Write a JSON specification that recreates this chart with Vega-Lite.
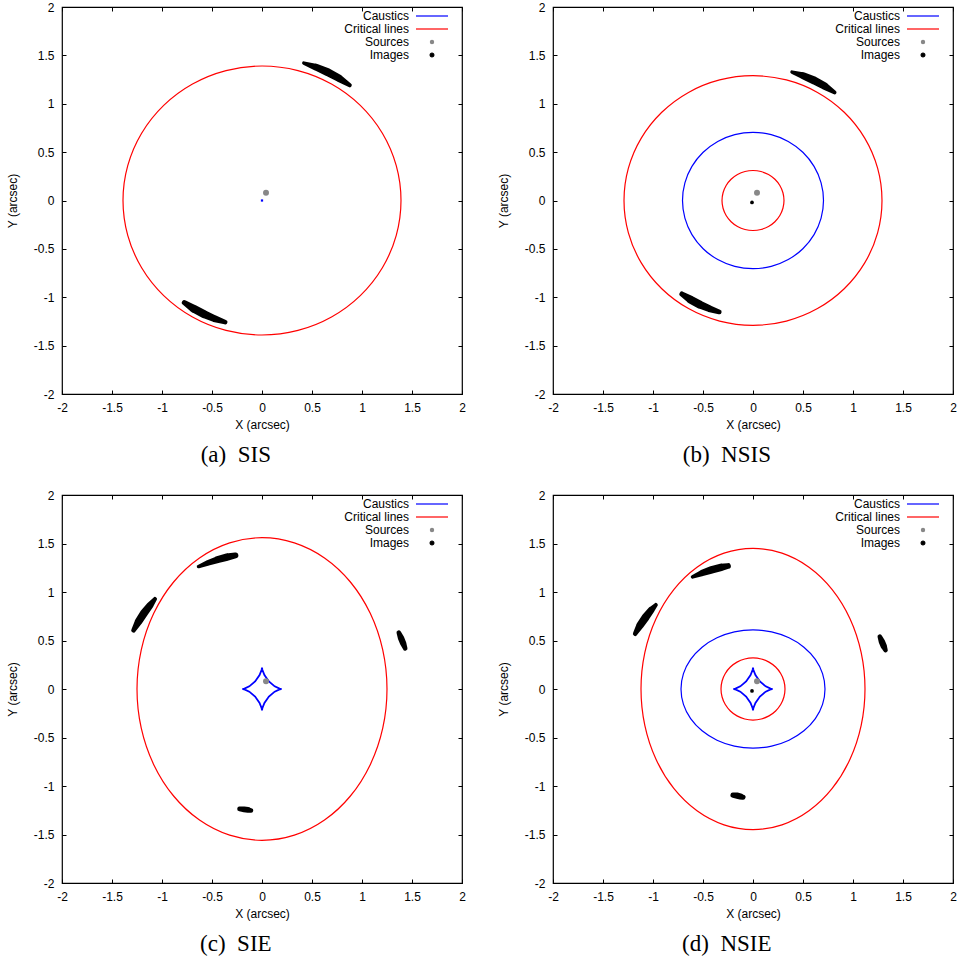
{
"$schema": "https://vega.github.io/schema/vega-lite/v6.json",
"background": "white",
"padding": {"left": 5, "top": 0, "right": 0, "bottom": 0},
"columns": 2,
"spacing": {"row": 20, "column": 30},
"config": {
  "view": {"stroke": "black", "strokeWidth": 1.2},
  "axis": {"domain": false, "grid": false, "tickColor": "black", "tickWidth": 1, "tickSize": -4, "labelPadding": 12, "labelFlush": false, "labelOverlap": false, "labelColor": "black", "labelFont": "Liberation Sans", "labelFontSize": 12, "titleFont": "Liberation Sans", "titleFontSize": 12, "titleFontWeight": "normal", "titleColor": "black"},
  "axisX": {"titlePadding": 6},
  "axisY": {"titlePadding": 14},
  "legend": {"orient": "none", "legendX": 364, "legendY": 3, "labelFont": "Liberation Sans", "labelFontSize": 12, "labelColor": "black", "labelAlign": "right", "labelOffset": -29, "labelLimit": 300, "symbolStrokeWidth": 1.2, "rowPadding": 1, "padding": 0},
  "title": {"font": "Liberation Serif", "fontSize": 23, "fontWeight": "normal", "color": "black", "orient": "bottom", "anchor": "middle", "frame": "bounds", "offset": 14}
},
"datasets": {
  "a_lines": [
    {"c":"o","k":"Critical lines","i":0,"x":1.39,"y":0},{"c":"o","k":"Critical lines","i":1,"x":1.3426,"y":0.3598},{"c":"o","k":"Critical lines","i":2,"x":1.2038,"y":0.695},{"c":"o","k":"Critical lines","i":3,"x":0.9829,"y":0.9829},{"c":"o","k":"Critical lines","i":4,"x":0.695,"y":1.2038},{"c":"o","k":"Critical lines","i":5,"x":0.3598,"y":1.3426},{"c":"o","k":"Critical lines","i":6,"x":0,"y":1.39},{"c":"o","k":"Critical lines","i":7,"x":-0.3598,"y":1.3426},{"c":"o","k":"Critical lines","i":8,"x":-0.695,"y":1.2038},{"c":"o","k":"Critical lines","i":9,"x":-0.9829,"y":0.9829},{"c":"o","k":"Critical lines","i":10,"x":-1.2038,"y":0.695},{"c":"o","k":"Critical lines","i":11,"x":-1.3426,"y":0.3598},{"c":"o","k":"Critical lines","i":12,"x":-1.39,"y":0},{"c":"o","k":"Critical lines","i":13,"x":-1.3426,"y":-0.3598},{"c":"o","k":"Critical lines","i":14,"x":-1.2038,"y":-0.695},{"c":"o","k":"Critical lines","i":15,"x":-0.9829,"y":-0.9829},{"c":"o","k":"Critical lines","i":16,"x":-0.695,"y":-1.2038},{"c":"o","k":"Critical lines","i":17,"x":-0.3598,"y":-1.3426},{"c":"o","k":"Critical lines","i":18,"x":0,"y":-1.39},{"c":"o","k":"Critical lines","i":19,"x":0.3598,"y":-1.3426},{"c":"o","k":"Critical lines","i":20,"x":0.695,"y":-1.2038},{"c":"o","k":"Critical lines","i":21,"x":0.9829,"y":-0.9829},{"c":"o","k":"Critical lines","i":22,"x":1.2038,"y":-0.695},{"c":"o","k":"Critical lines","i":23,"x":1.3426,"y":-0.3598}
  ],
  "b_lines": [
    {"c":"o","k":"Critical lines","i":0,"x":1.29,"y":0},{"c":"o","k":"Critical lines","i":1,"x":1.2461,"y":0.3339},{"c":"o","k":"Critical lines","i":2,"x":1.1172,"y":0.645},{"c":"o","k":"Critical lines","i":3,"x":0.9122,"y":0.9122},{"c":"o","k":"Critical lines","i":4,"x":0.645,"y":1.1172},{"c":"o","k":"Critical lines","i":5,"x":0.3339,"y":1.2461},{"c":"o","k":"Critical lines","i":6,"x":0,"y":1.29},{"c":"o","k":"Critical lines","i":7,"x":-0.3339,"y":1.2461},{"c":"o","k":"Critical lines","i":8,"x":-0.645,"y":1.1172},{"c":"o","k":"Critical lines","i":9,"x":-0.9122,"y":0.9122},{"c":"o","k":"Critical lines","i":10,"x":-1.1172,"y":0.645},{"c":"o","k":"Critical lines","i":11,"x":-1.2461,"y":0.3339},{"c":"o","k":"Critical lines","i":12,"x":-1.29,"y":0},{"c":"o","k":"Critical lines","i":13,"x":-1.2461,"y":-0.3339},{"c":"o","k":"Critical lines","i":14,"x":-1.1172,"y":-0.645},{"c":"o","k":"Critical lines","i":15,"x":-0.9122,"y":-0.9122},{"c":"o","k":"Critical lines","i":16,"x":-0.645,"y":-1.1172},{"c":"o","k":"Critical lines","i":17,"x":-0.3339,"y":-1.2461},{"c":"o","k":"Critical lines","i":18,"x":0,"y":-1.29},{"c":"o","k":"Critical lines","i":19,"x":0.3339,"y":-1.2461},{"c":"o","k":"Critical lines","i":20,"x":0.645,"y":-1.1172},{"c":"o","k":"Critical lines","i":21,"x":0.9122,"y":-0.9122},{"c":"o","k":"Critical lines","i":22,"x":1.1172,"y":-0.645},{"c":"o","k":"Critical lines","i":23,"x":1.2461,"y":-0.3339},
    {"c":"m","k":"Caustics","i":0,"x":0.705,"y":0},{"c":"m","k":"Caustics","i":1,"x":0.681,"y":0.1825},{"c":"m","k":"Caustics","i":2,"x":0.6106,"y":0.3525},{"c":"m","k":"Caustics","i":3,"x":0.4985,"y":0.4985},{"c":"m","k":"Caustics","i":4,"x":0.3525,"y":0.6106},{"c":"m","k":"Caustics","i":5,"x":0.1825,"y":0.681},{"c":"m","k":"Caustics","i":6,"x":0,"y":0.705},{"c":"m","k":"Caustics","i":7,"x":-0.1825,"y":0.681},{"c":"m","k":"Caustics","i":8,"x":-0.3525,"y":0.6106},{"c":"m","k":"Caustics","i":9,"x":-0.4985,"y":0.4985},{"c":"m","k":"Caustics","i":10,"x":-0.6106,"y":0.3525},{"c":"m","k":"Caustics","i":11,"x":-0.681,"y":0.1825},{"c":"m","k":"Caustics","i":12,"x":-0.705,"y":0},{"c":"m","k":"Caustics","i":13,"x":-0.681,"y":-0.1825},{"c":"m","k":"Caustics","i":14,"x":-0.6106,"y":-0.3525},{"c":"m","k":"Caustics","i":15,"x":-0.4985,"y":-0.4985},{"c":"m","k":"Caustics","i":16,"x":-0.3525,"y":-0.6106},{"c":"m","k":"Caustics","i":17,"x":-0.1825,"y":-0.681},{"c":"m","k":"Caustics","i":18,"x":0,"y":-0.705},{"c":"m","k":"Caustics","i":19,"x":0.1825,"y":-0.681},{"c":"m","k":"Caustics","i":20,"x":0.3525,"y":-0.6106},{"c":"m","k":"Caustics","i":21,"x":0.4985,"y":-0.4985},{"c":"m","k":"Caustics","i":22,"x":0.6106,"y":-0.3525},{"c":"m","k":"Caustics","i":23,"x":0.681,"y":-0.1825},
    {"c":"n","k":"Critical lines","i":0,"x":0.31,"y":0},{"c":"n","k":"Critical lines","i":1,"x":0.2994,"y":0.0802},{"c":"n","k":"Critical lines","i":2,"x":0.2685,"y":0.155},{"c":"n","k":"Critical lines","i":3,"x":0.2192,"y":0.2192},{"c":"n","k":"Critical lines","i":4,"x":0.155,"y":0.2685},{"c":"n","k":"Critical lines","i":5,"x":0.0802,"y":0.2994},{"c":"n","k":"Critical lines","i":6,"x":0,"y":0.31},{"c":"n","k":"Critical lines","i":7,"x":-0.0802,"y":0.2994},{"c":"n","k":"Critical lines","i":8,"x":-0.155,"y":0.2685},{"c":"n","k":"Critical lines","i":9,"x":-0.2192,"y":0.2192},{"c":"n","k":"Critical lines","i":10,"x":-0.2685,"y":0.155},{"c":"n","k":"Critical lines","i":11,"x":-0.2994,"y":0.0802},{"c":"n","k":"Critical lines","i":12,"x":-0.31,"y":0},{"c":"n","k":"Critical lines","i":13,"x":-0.2994,"y":-0.0802},{"c":"n","k":"Critical lines","i":14,"x":-0.2685,"y":-0.155},{"c":"n","k":"Critical lines","i":15,"x":-0.2192,"y":-0.2192},{"c":"n","k":"Critical lines","i":16,"x":-0.155,"y":-0.2685},{"c":"n","k":"Critical lines","i":17,"x":-0.0802,"y":-0.2994},{"c":"n","k":"Critical lines","i":18,"x":0,"y":-0.31},{"c":"n","k":"Critical lines","i":19,"x":0.0802,"y":-0.2994},{"c":"n","k":"Critical lines","i":20,"x":0.155,"y":-0.2685},{"c":"n","k":"Critical lines","i":21,"x":0.2192,"y":-0.2192},{"c":"n","k":"Critical lines","i":22,"x":0.2685,"y":-0.155},{"c":"n","k":"Critical lines","i":23,"x":0.2994,"y":-0.0802}
  ],
  "c_lines": [
    {"c":"o","k":"Critical lines","i":0,"x":1.25,"y":0},{"c":"o","k":"Critical lines","i":1,"x":1.2074,"y":0.4038},{"c":"o","k":"Critical lines","i":2,"x":1.0825,"y":0.78},{"c":"o","k":"Critical lines","i":3,"x":0.8839,"y":1.1031},{"c":"o","k":"Critical lines","i":4,"x":0.625,"y":1.351},{"c":"o","k":"Critical lines","i":5,"x":0.3235,"y":1.5069},{"c":"o","k":"Critical lines","i":6,"x":0,"y":1.56},{"c":"o","k":"Critical lines","i":7,"x":-0.3235,"y":1.5069},{"c":"o","k":"Critical lines","i":8,"x":-0.625,"y":1.351},{"c":"o","k":"Critical lines","i":9,"x":-0.8839,"y":1.1031},{"c":"o","k":"Critical lines","i":10,"x":-1.0825,"y":0.78},{"c":"o","k":"Critical lines","i":11,"x":-1.2074,"y":0.4038},{"c":"o","k":"Critical lines","i":12,"x":-1.25,"y":0},{"c":"o","k":"Critical lines","i":13,"x":-1.2074,"y":-0.4038},{"c":"o","k":"Critical lines","i":14,"x":-1.0825,"y":-0.78},{"c":"o","k":"Critical lines","i":15,"x":-0.8839,"y":-1.1031},{"c":"o","k":"Critical lines","i":16,"x":-0.625,"y":-1.351},{"c":"o","k":"Critical lines","i":17,"x":-0.3235,"y":-1.5069},{"c":"o","k":"Critical lines","i":18,"x":0,"y":-1.56},{"c":"o","k":"Critical lines","i":19,"x":0.3235,"y":-1.5069},{"c":"o","k":"Critical lines","i":20,"x":0.625,"y":-1.351},{"c":"o","k":"Critical lines","i":21,"x":0.8839,"y":-1.1031},{"c":"o","k":"Critical lines","i":22,"x":1.0825,"y":-0.78},{"c":"o","k":"Critical lines","i":23,"x":1.2074,"y":-0.4038}
  ],
  "d_lines": [
    {"c":"o","k":"Critical lines","i":0,"x":1.12,"y":0},{"c":"o","k":"Critical lines","i":1,"x":1.0818,"y":0.3753},{"c":"o","k":"Critical lines","i":2,"x":0.97,"y":0.725},{"c":"o","k":"Critical lines","i":3,"x":0.792,"y":1.0253},{"c":"o","k":"Critical lines","i":4,"x":0.56,"y":1.2557},{"c":"o","k":"Critical lines","i":5,"x":0.2899,"y":1.4006},{"c":"o","k":"Critical lines","i":6,"x":0,"y":1.45},{"c":"o","k":"Critical lines","i":7,"x":-0.2899,"y":1.4006},{"c":"o","k":"Critical lines","i":8,"x":-0.56,"y":1.2557},{"c":"o","k":"Critical lines","i":9,"x":-0.792,"y":1.0253},{"c":"o","k":"Critical lines","i":10,"x":-0.97,"y":0.725},{"c":"o","k":"Critical lines","i":11,"x":-1.0818,"y":0.3753},{"c":"o","k":"Critical lines","i":12,"x":-1.12,"y":0},{"c":"o","k":"Critical lines","i":13,"x":-1.0818,"y":-0.3753},{"c":"o","k":"Critical lines","i":14,"x":-0.97,"y":-0.725},{"c":"o","k":"Critical lines","i":15,"x":-0.792,"y":-1.0253},{"c":"o","k":"Critical lines","i":16,"x":-0.56,"y":-1.2557},{"c":"o","k":"Critical lines","i":17,"x":-0.2899,"y":-1.4006},{"c":"o","k":"Critical lines","i":18,"x":0,"y":-1.45},{"c":"o","k":"Critical lines","i":19,"x":0.2899,"y":-1.4006},{"c":"o","k":"Critical lines","i":20,"x":0.56,"y":-1.2557},{"c":"o","k":"Critical lines","i":21,"x":0.792,"y":-1.0253},{"c":"o","k":"Critical lines","i":22,"x":0.97,"y":-0.725},{"c":"o","k":"Critical lines","i":23,"x":1.0818,"y":-0.3753},
    {"c":"m","k":"Caustics","i":0,"x":0.72,"y":0},{"c":"m","k":"Caustics","i":1,"x":0.6955,"y":0.1579},{"c":"m","k":"Caustics","i":2,"x":0.6235,"y":0.305},{"c":"m","k":"Caustics","i":3,"x":0.5091,"y":0.4313},{"c":"m","k":"Caustics","i":4,"x":0.36,"y":0.5283},{"c":"m","k":"Caustics","i":5,"x":0.1863,"y":0.5892},{"c":"m","k":"Caustics","i":6,"x":0,"y":0.61},{"c":"m","k":"Caustics","i":7,"x":-0.1863,"y":0.5892},{"c":"m","k":"Caustics","i":8,"x":-0.36,"y":0.5283},{"c":"m","k":"Caustics","i":9,"x":-0.5091,"y":0.4313},{"c":"m","k":"Caustics","i":10,"x":-0.6235,"y":0.305},{"c":"m","k":"Caustics","i":11,"x":-0.6955,"y":0.1579},{"c":"m","k":"Caustics","i":12,"x":-0.72,"y":0},{"c":"m","k":"Caustics","i":13,"x":-0.6955,"y":-0.1579},{"c":"m","k":"Caustics","i":14,"x":-0.6235,"y":-0.305},{"c":"m","k":"Caustics","i":15,"x":-0.5091,"y":-0.4313},{"c":"m","k":"Caustics","i":16,"x":-0.36,"y":-0.5283},{"c":"m","k":"Caustics","i":17,"x":-0.1863,"y":-0.5892},{"c":"m","k":"Caustics","i":18,"x":0,"y":-0.61},{"c":"m","k":"Caustics","i":19,"x":0.1863,"y":-0.5892},{"c":"m","k":"Caustics","i":20,"x":0.36,"y":-0.5283},{"c":"m","k":"Caustics","i":21,"x":0.5091,"y":-0.4313},{"c":"m","k":"Caustics","i":22,"x":0.6235,"y":-0.305},{"c":"m","k":"Caustics","i":23,"x":0.6955,"y":-0.1579},
    {"c":"n","k":"Critical lines","i":0,"x":0.32,"y":0},{"c":"n","k":"Critical lines","i":1,"x":0.3091,"y":0.0828},{"c":"n","k":"Critical lines","i":2,"x":0.2771,"y":0.16},{"c":"n","k":"Critical lines","i":3,"x":0.2263,"y":0.2263},{"c":"n","k":"Critical lines","i":4,"x":0.16,"y":0.2771},{"c":"n","k":"Critical lines","i":5,"x":0.0828,"y":0.3091},{"c":"n","k":"Critical lines","i":6,"x":0,"y":0.32},{"c":"n","k":"Critical lines","i":7,"x":-0.0828,"y":0.3091},{"c":"n","k":"Critical lines","i":8,"x":-0.16,"y":0.2771},{"c":"n","k":"Critical lines","i":9,"x":-0.2263,"y":0.2263},{"c":"n","k":"Critical lines","i":10,"x":-0.2771,"y":0.16},{"c":"n","k":"Critical lines","i":11,"x":-0.3091,"y":0.0828},{"c":"n","k":"Critical lines","i":12,"x":-0.32,"y":0},{"c":"n","k":"Critical lines","i":13,"x":-0.3091,"y":-0.0828},{"c":"n","k":"Critical lines","i":14,"x":-0.2771,"y":-0.16},{"c":"n","k":"Critical lines","i":15,"x":-0.2263,"y":-0.2263},{"c":"n","k":"Critical lines","i":16,"x":-0.16,"y":-0.2771},{"c":"n","k":"Critical lines","i":17,"x":-0.0828,"y":-0.3091},{"c":"n","k":"Critical lines","i":18,"x":0,"y":-0.32},{"c":"n","k":"Critical lines","i":19,"x":0.0828,"y":-0.3091},{"c":"n","k":"Critical lines","i":20,"x":0.16,"y":-0.2771},{"c":"n","k":"Critical lines","i":21,"x":0.2263,"y":-0.2263},{"c":"n","k":"Critical lines","i":22,"x":0.2771,"y":-0.16},{"c":"n","k":"Critical lines","i":23,"x":0.3091,"y":-0.0828}
  ],
  "astroid": [
    {"k":"Caustics","i":0,"x":0.195,"y":0},{"k":"Caustics","i":1,"x":0.1757,"y":0.0038},{"k":"Caustics","i":2,"x":0.1267,"y":0.0275},{"k":"Caustics","i":3,"x":0.0689,"y":0.0778},{"k":"Caustics","i":4,"x":0.0244,"y":0.1429},{"k":"Caustics","i":5,"x":0.0034,"y":0.1983},{"k":"Caustics","i":6,"x":0,"y":0.22},{"k":"Caustics","i":7,"x":-0.0034,"y":0.1983},{"k":"Caustics","i":8,"x":-0.0244,"y":0.1429},{"k":"Caustics","i":9,"x":-0.0689,"y":0.0778},{"k":"Caustics","i":10,"x":-0.1267,"y":0.0275},{"k":"Caustics","i":11,"x":-0.1757,"y":0.0038},{"k":"Caustics","i":12,"x":-0.195,"y":0},{"k":"Caustics","i":13,"x":-0.1757,"y":-0.0038},{"k":"Caustics","i":14,"x":-0.1267,"y":-0.0275},{"k":"Caustics","i":15,"x":-0.0689,"y":-0.0778},{"k":"Caustics","i":16,"x":-0.0244,"y":-0.1429},{"k":"Caustics","i":17,"x":-0.0034,"y":-0.1983},{"k":"Caustics","i":18,"x":0,"y":-0.22},{"k":"Caustics","i":19,"x":0.0034,"y":-0.1983},{"k":"Caustics","i":20,"x":0.0244,"y":-0.1429},{"k":"Caustics","i":21,"x":0.0689,"y":-0.0778},{"k":"Caustics","i":22,"x":0.1267,"y":-0.0275},{"k":"Caustics","i":23,"x":0.1757,"y":-0.0038}
  ],
  "point_caustic": [{"k":"Caustics","x":0,"y":0}],
  "src": [{"k":"Sources","x":0.04,"y":0.08}],
  "cimg": [{"k":"Images","x":-0.01,"y":-0.02}],
  "a_img": [
    {"g":"u","i":0,"x":0.418,"y":1.42,"w":0.03},{"g":"u","i":1,"x":0.54,"y":1.378,"w":0.06},{"g":"u","i":2,"x":0.658,"y":1.326,"w":0.07},{"g":"u","i":3,"x":0.771,"y":1.263,"w":0.065},{"g":"u","i":4,"x":0.878,"y":1.191,"w":0.035},
    {"g":"l","i":0,"x":-0.776,"y":-1.056,"w":0.045},{"g":"l","i":1,"x":-0.681,"y":-1.119,"w":0.07},{"g":"l","i":2,"x":-0.58,"y":-1.174,"w":0.07},{"g":"l","i":3,"x":-0.476,"y":-1.221,"w":0.06},{"g":"l","i":4,"x":-0.368,"y":-1.257,"w":0.04}
  ],
  "b_img": [
    {"g":"u","i":0,"x":0.39,"y":1.327,"w":0.03},{"g":"u","i":1,"x":0.502,"y":1.289,"w":0.06},{"g":"u","i":2,"x":0.612,"y":1.24,"w":0.07},{"g":"u","i":3,"x":0.716,"y":1.183,"w":0.065},{"g":"u","i":4,"x":0.815,"y":1.117,"w":0.035},
    {"g":"l","i":0,"x":-0.71,"y":-0.967,"w":0.045},{"g":"l","i":1,"x":-0.623,"y":-1.025,"w":0.07},{"g":"l","i":2,"x":-0.532,"y":-1.076,"w":0.07},{"g":"l","i":3,"x":-0.436,"y":-1.118,"w":0.06},{"g":"l","i":4,"x":-0.337,"y":-1.152,"w":0.04}
  ],
  "c_img": [
    {"g":"t","i":0,"x":-0.635,"y":1.262,"w":0.03},{"g":"t","i":1,"x":-0.54,"y":1.3,"w":0.05},{"g":"t","i":2,"x":-0.445,"y":1.333,"w":0.06},{"g":"t","i":3,"x":-0.35,"y":1.36,"w":0.065},{"g":"t","i":4,"x":-0.265,"y":1.378,"w":0.05},
    {"g":"l","i":0,"x":-1.285,"y":0.605,"w":0.04},{"g":"l","i":1,"x":-1.235,"y":0.695,"w":0.065},{"g":"l","i":2,"x":-1.18,"y":0.782,"w":0.07},{"g":"l","i":3,"x":-1.12,"y":0.862,"w":0.06},{"g":"l","i":4,"x":-1.07,"y":0.928,"w":0.035},
    {"g":"r","i":0,"x":1.368,"y":0.58,"w":0.04},{"g":"r","i":1,"x":1.39,"y":0.525,"w":0.055},{"g":"r","i":2,"x":1.412,"y":0.47,"w":0.055},{"g":"r","i":3,"x":1.432,"y":0.42,"w":0.04},
    {"g":"b","i":0,"x":-0.225,"y":-1.236,"w":0.04},{"g":"b","i":1,"x":-0.18,"y":-1.241,"w":0.05},{"g":"b","i":2,"x":-0.14,"y":-1.247,"w":0.05},{"g":"b","i":3,"x":-0.11,"y":-1.252,"w":0.04}
  ],
  "d_img": [
    {"g":"t","i":0,"x":-0.605,"y":1.155,"w":0.03},{"g":"t","i":1,"x":-0.51,"y":1.195,"w":0.055},{"g":"t","i":2,"x":-0.415,"y":1.228,"w":0.065},{"g":"t","i":3,"x":-0.32,"y":1.254,"w":0.065},{"g":"t","i":4,"x":-0.25,"y":1.268,"w":0.05},
    {"g":"l","i":0,"x":-1.178,"y":0.57,"w":0.04},{"g":"l","i":1,"x":-1.13,"y":0.655,"w":0.065},{"g":"l","i":2,"x":-1.075,"y":0.738,"w":0.07},{"g":"l","i":3,"x":-1.02,"y":0.812,"w":0.06},{"g":"l","i":4,"x":-0.972,"y":0.866,"w":0.035},
    {"g":"r","i":0,"x":1.268,"y":0.54,"w":0.04},{"g":"r","i":1,"x":1.288,"y":0.49,"w":0.055},{"g":"r","i":2,"x":1.308,"y":0.44,"w":0.055},{"g":"r","i":3,"x":1.325,"y":0.4,"w":0.04},
    {"g":"b","i":0,"x":-0.2,"y":-1.094,"w":0.045},{"g":"b","i":1,"x":-0.16,"y":-1.1,"w":0.055},{"g":"b","i":2,"x":-0.125,"y":-1.108,"w":0.055},{"g":"b","i":3,"x":-0.1,"y":-1.115,"w":0.045}
  ]
},
"resolve": {"scale": {"color": "independent", "size": "independent"}, "legend": {"color": "independent", "size": "independent"}},
"concat": [
  {
    "width": 400, "height": 387,
    "title": {"text": "(a)\u00a0\u00a0SIS"},
    "resolve": {"scale": {"x": "independent", "y": "independent"}, "axis": {"x": "independent", "y": "independent"}},
    "layer": [
      {"data": {"name": "a_lines"}, "mark": {"type": "line", "interpolate": "cardinal-closed", "strokeWidth": 1.2},
       "encoding": {
         "x": {"field": "x", "type": "quantitative", "scale": {"domain": [-2, 2], "nice": false, "zero": false}, "axis": {"orient": "bottom", "title": "X (arcsec)", "values": [-2, -1.5, -1, -0.5, 0, 0.5, 1, 1.5, 2], "labelExpr": "datum.value < 0 ? '-' + format(-datum.value, '~g') : format(datum.value, '~g')"}},
         "y": {"field": "y", "type": "quantitative", "scale": {"domain": [-2, 2], "nice": false, "zero": false}, "axis": {"orient": "left", "title": "Y (arcsec)", "values": [-2, -1.5, -1, -0.5, 0, 0.5, 1, 1.5, 2], "labelExpr": "datum.value < 0 ? '-' + format(-datum.value, '~g') : format(datum.value, '~g')"}},
         "color": {"field": "k", "type": "nominal", "scale": {"domain": ["Caustics", "Critical lines", "Sources", "Images"], "range": ["#0000ff", "#ff0000", "#888888", "#000000"]},
           "legend": {"title": null, "encode": {"symbols": {"update": {
             "shape": {"signal": "datum.value === 'Sources' || datum.value === 'Images' ? 'circle' : 'M-16,0H16'"},
             "size": {"signal": "datum.value === 'Sources' ? 10 : datum.value === 'Images' ? 14 : 4"},
             "fill": {"signal": "datum.value === 'Sources' ? '#888888' : datum.value === 'Images' ? '#000000' : 'transparent'"},
             "stroke": {"signal": "datum.value === 'Caustics' ? '#0000ff' : datum.value === 'Critical lines' ? '#ff0000' : 'transparent'"},
             "strokeWidth": {"value": 1.2}, "opacity": {"value": 1}}}}}},
         "detail": {"field": "c"},
         "order": {"field": "i", "type": "quantitative"}
       }},
      {"data": {"name": "a_img"}, "mark": {"type": "trail", "color": "black"},
       "encoding": {
         "x": {"field": "x", "type": "quantitative", "scale": {"domain": [-2, 2], "nice": false, "zero": false}, "axis": null},
         "y": {"field": "y", "type": "quantitative", "scale": {"domain": [-2, 2], "nice": false, "zero": false}, "axis": null},
         "detail": {"field": "g"}, "order": {"field": "i", "type": "quantitative"},
         "size": {"field": "w", "type": "quantitative", "scale": {"domain": [0, 0.1], "range": [0, 11.5]}, "legend": null}
       }},
      {"data": {"name": "point_caustic"}, "mark": {"type": "point", "shape": "square", "filled": true, "size": 5, "opacity": 1},
       "encoding": {
         "x": {"field": "x", "type": "quantitative", "scale": {"domain": [-2, 2], "nice": false, "zero": false}, "axis": null},
         "y": {"field": "y", "type": "quantitative", "scale": {"domain": [-2, 2], "nice": false, "zero": false}, "axis": null},
         "color": {"field": "k", "type": "nominal"}
       }},
      {"data": {"name": "src"}, "mark": {"type": "point", "filled": true, "size": 36, "opacity": 1},
       "encoding": {
         "x": {"field": "x", "type": "quantitative", "scale": {"domain": [-2, 2], "nice": false, "zero": false}, "axis": {"orient": "top", "labels": false, "title": null, "values": [-2, -1.5, -1, -0.5, 0, 0.5, 1, 1.5, 2]}},
         "y": {"field": "y", "type": "quantitative", "scale": {"domain": [-2, 2], "nice": false, "zero": false}, "axis": {"orient": "right", "labels": false, "title": null, "values": [-2, -1.5, -1, -0.5, 0, 0.5, 1, 1.5, 2]}},
         "color": {"field": "k", "type": "nominal"}
       }}
    ]
  },
  {
    "width": 400, "height": 387,
    "title": {"text": "(b)\u00a0\u00a0NSIS"},
    "resolve": {"scale": {"x": "independent", "y": "independent"}, "axis": {"x": "independent", "y": "independent"}},
    "layer": [
      {"data": {"name": "b_lines"}, "mark": {"type": "line", "interpolate": "cardinal-closed", "strokeWidth": 1.2},
       "encoding": {
         "x": {"field": "x", "type": "quantitative", "scale": {"domain": [-2, 2], "nice": false, "zero": false}, "axis": {"orient": "bottom", "title": "X (arcsec)", "values": [-2, -1.5, -1, -0.5, 0, 0.5, 1, 1.5, 2], "labelExpr": "datum.value < 0 ? '-' + format(-datum.value, '~g') : format(datum.value, '~g')"}},
         "y": {"field": "y", "type": "quantitative", "scale": {"domain": [-2, 2], "nice": false, "zero": false}, "axis": {"orient": "left", "title": "Y (arcsec)", "values": [-2, -1.5, -1, -0.5, 0, 0.5, 1, 1.5, 2], "labelExpr": "datum.value < 0 ? '-' + format(-datum.value, '~g') : format(datum.value, '~g')"}},
         "color": {"field": "k", "type": "nominal", "scale": {"domain": ["Caustics", "Critical lines", "Sources", "Images"], "range": ["#0000ff", "#ff0000", "#888888", "#000000"]},
           "legend": {"title": null, "encode": {"symbols": {"update": {
             "shape": {"signal": "datum.value === 'Sources' || datum.value === 'Images' ? 'circle' : 'M-16,0H16'"},
             "size": {"signal": "datum.value === 'Sources' ? 10 : datum.value === 'Images' ? 14 : 4"},
             "fill": {"signal": "datum.value === 'Sources' ? '#888888' : datum.value === 'Images' ? '#000000' : 'transparent'"},
             "stroke": {"signal": "datum.value === 'Caustics' ? '#0000ff' : datum.value === 'Critical lines' ? '#ff0000' : 'transparent'"},
             "strokeWidth": {"value": 1.2}, "opacity": {"value": 1}}}}}},
         "detail": {"field": "c"},
         "order": {"field": "i", "type": "quantitative"}
       }},
      {"data": {"name": "b_img"}, "mark": {"type": "trail", "color": "black"},
       "encoding": {
         "x": {"field": "x", "type": "quantitative", "scale": {"domain": [-2, 2], "nice": false, "zero": false}, "axis": null},
         "y": {"field": "y", "type": "quantitative", "scale": {"domain": [-2, 2], "nice": false, "zero": false}, "axis": null},
         "detail": {"field": "g"}, "order": {"field": "i", "type": "quantitative"},
         "size": {"field": "w", "type": "quantitative", "scale": {"domain": [0, 0.1], "range": [0, 11.5]}, "legend": null}
       }},
      {"data": {"name": "cimg"}, "mark": {"type": "point", "filled": true, "size": 14, "opacity": 1},
       "encoding": {
         "x": {"field": "x", "type": "quantitative", "scale": {"domain": [-2, 2], "nice": false, "zero": false}, "axis": null},
         "y": {"field": "y", "type": "quantitative", "scale": {"domain": [-2, 2], "nice": false, "zero": false}, "axis": null},
         "color": {"field": "k", "type": "nominal"}
       }},
      {"data": {"name": "src"}, "mark": {"type": "point", "filled": true, "size": 36, "opacity": 1},
       "encoding": {
         "x": {"field": "x", "type": "quantitative", "scale": {"domain": [-2, 2], "nice": false, "zero": false}, "axis": {"orient": "top", "labels": false, "title": null, "values": [-2, -1.5, -1, -0.5, 0, 0.5, 1, 1.5, 2]}},
         "y": {"field": "y", "type": "quantitative", "scale": {"domain": [-2, 2], "nice": false, "zero": false}, "axis": {"orient": "right", "labels": false, "title": null, "values": [-2, -1.5, -1, -0.5, 0, 0.5, 1, 1.5, 2]}},
         "color": {"field": "k", "type": "nominal"}
       }}
    ]
  },
  {
    "width": 400, "height": 388,
    "title": {"text": "(c)\u00a0\u00a0SIE"},
    "resolve": {"scale": {"x": "independent", "y": "independent"}, "axis": {"x": "independent", "y": "independent"}},
    "layer": [
      {"data": {"name": "c_lines"}, "mark": {"type": "line", "interpolate": "cardinal-closed", "strokeWidth": 1.2},
       "encoding": {
         "x": {"field": "x", "type": "quantitative", "scale": {"domain": [-2, 2], "nice": false, "zero": false}, "axis": {"orient": "bottom", "title": "X (arcsec)", "values": [-2, -1.5, -1, -0.5, 0, 0.5, 1, 1.5, 2], "labelExpr": "datum.value < 0 ? '-' + format(-datum.value, '~g') : format(datum.value, '~g')"}},
         "y": {"field": "y", "type": "quantitative", "scale": {"domain": [-2, 2], "nice": false, "zero": false}, "axis": {"orient": "left", "title": "Y (arcsec)", "values": [-2, -1.5, -1, -0.5, 0, 0.5, 1, 1.5, 2], "labelExpr": "datum.value < 0 ? '-' + format(-datum.value, '~g') : format(datum.value, '~g')"}},
         "color": {"field": "k", "type": "nominal", "scale": {"domain": ["Caustics", "Critical lines", "Sources", "Images"], "range": ["#0000ff", "#ff0000", "#888888", "#000000"]},
           "legend": {"title": null, "encode": {"symbols": {"update": {
             "shape": {"signal": "datum.value === 'Sources' || datum.value === 'Images' ? 'circle' : 'M-16,0H16'"},
             "size": {"signal": "datum.value === 'Sources' ? 10 : datum.value === 'Images' ? 14 : 4"},
             "fill": {"signal": "datum.value === 'Sources' ? '#888888' : datum.value === 'Images' ? '#000000' : 'transparent'"},
             "stroke": {"signal": "datum.value === 'Caustics' ? '#0000ff' : datum.value === 'Critical lines' ? '#ff0000' : 'transparent'"},
             "strokeWidth": {"value": 1.2}, "opacity": {"value": 1}}}}}},
         "detail": {"field": "c"},
         "order": {"field": "i", "type": "quantitative"}
       }},
      {"data": {"name": "astroid"}, "mark": {"type": "line", "interpolate": "linear-closed", "strokeWidth": 1.8},
       "encoding": {
         "x": {"field": "x", "type": "quantitative", "scale": {"domain": [-2, 2], "nice": false, "zero": false}, "axis": null},
         "y": {"field": "y", "type": "quantitative", "scale": {"domain": [-2, 2], "nice": false, "zero": false}, "axis": null},
         "color": {"field": "k", "type": "nominal"},
         "order": {"field": "i", "type": "quantitative"}
       }},
      {"data": {"name": "c_img"}, "mark": {"type": "trail", "color": "black"},
       "encoding": {
         "x": {"field": "x", "type": "quantitative", "scale": {"domain": [-2, 2], "nice": false, "zero": false}, "axis": null},
         "y": {"field": "y", "type": "quantitative", "scale": {"domain": [-2, 2], "nice": false, "zero": false}, "axis": null},
         "detail": {"field": "g"}, "order": {"field": "i", "type": "quantitative"},
         "size": {"field": "w", "type": "quantitative", "scale": {"domain": [0, 0.1], "range": [0, 11.5]}, "legend": null}
       }},
      {"data": {"name": "src"}, "mark": {"type": "point", "filled": true, "size": 36, "opacity": 1},
       "encoding": {
         "x": {"field": "x", "type": "quantitative", "scale": {"domain": [-2, 2], "nice": false, "zero": false}, "axis": {"orient": "top", "labels": false, "title": null, "values": [-2, -1.5, -1, -0.5, 0, 0.5, 1, 1.5, 2]}},
         "y": {"field": "y", "type": "quantitative", "scale": {"domain": [-2, 2], "nice": false, "zero": false}, "axis": {"orient": "right", "labels": false, "title": null, "values": [-2, -1.5, -1, -0.5, 0, 0.5, 1, 1.5, 2]}},
         "color": {"field": "k", "type": "nominal"}
       }}
    ]
  },
  {
    "width": 400, "height": 388,
    "title": {"text": "(d)\u00a0\u00a0NSIE"},
    "resolve": {"scale": {"x": "independent", "y": "independent"}, "axis": {"x": "independent", "y": "independent"}},
    "layer": [
      {"data": {"name": "d_lines"}, "mark": {"type": "line", "interpolate": "cardinal-closed", "strokeWidth": 1.2},
       "encoding": {
         "x": {"field": "x", "type": "quantitative", "scale": {"domain": [-2, 2], "nice": false, "zero": false}, "axis": {"orient": "bottom", "title": "X (arcsec)", "values": [-2, -1.5, -1, -0.5, 0, 0.5, 1, 1.5, 2], "labelExpr": "datum.value < 0 ? '-' + format(-datum.value, '~g') : format(datum.value, '~g')"}},
         "y": {"field": "y", "type": "quantitative", "scale": {"domain": [-2, 2], "nice": false, "zero": false}, "axis": {"orient": "left", "title": "Y (arcsec)", "values": [-2, -1.5, -1, -0.5, 0, 0.5, 1, 1.5, 2], "labelExpr": "datum.value < 0 ? '-' + format(-datum.value, '~g') : format(datum.value, '~g')"}},
         "color": {"field": "k", "type": "nominal", "scale": {"domain": ["Caustics", "Critical lines", "Sources", "Images"], "range": ["#0000ff", "#ff0000", "#888888", "#000000"]},
           "legend": {"title": null, "encode": {"symbols": {"update": {
             "shape": {"signal": "datum.value === 'Sources' || datum.value === 'Images' ? 'circle' : 'M-16,0H16'"},
             "size": {"signal": "datum.value === 'Sources' ? 10 : datum.value === 'Images' ? 14 : 4"},
             "fill": {"signal": "datum.value === 'Sources' ? '#888888' : datum.value === 'Images' ? '#000000' : 'transparent'"},
             "stroke": {"signal": "datum.value === 'Caustics' ? '#0000ff' : datum.value === 'Critical lines' ? '#ff0000' : 'transparent'"},
             "strokeWidth": {"value": 1.2}, "opacity": {"value": 1}}}}}},
         "detail": {"field": "c"},
         "order": {"field": "i", "type": "quantitative"}
       }},
      {"data": {"name": "astroid"}, "mark": {"type": "line", "interpolate": "linear-closed", "strokeWidth": 1.8},
       "encoding": {
         "x": {"field": "x", "type": "quantitative", "scale": {"domain": [-2, 2], "nice": false, "zero": false}, "axis": null},
         "y": {"field": "y", "type": "quantitative", "scale": {"domain": [-2, 2], "nice": false, "zero": false}, "axis": null},
         "color": {"field": "k", "type": "nominal"},
         "order": {"field": "i", "type": "quantitative"}
       }},
      {"data": {"name": "d_img"}, "mark": {"type": "trail", "color": "black"},
       "encoding": {
         "x": {"field": "x", "type": "quantitative", "scale": {"domain": [-2, 2], "nice": false, "zero": false}, "axis": null},
         "y": {"field": "y", "type": "quantitative", "scale": {"domain": [-2, 2], "nice": false, "zero": false}, "axis": null},
         "detail": {"field": "g"}, "order": {"field": "i", "type": "quantitative"},
         "size": {"field": "w", "type": "quantitative", "scale": {"domain": [0, 0.1], "range": [0, 11.5]}, "legend": null}
       }},
      {"data": {"name": "cimg"}, "mark": {"type": "point", "filled": true, "size": 14, "opacity": 1},
       "encoding": {
         "x": {"field": "x", "type": "quantitative", "scale": {"domain": [-2, 2], "nice": false, "zero": false}, "axis": null},
         "y": {"field": "y", "type": "quantitative", "scale": {"domain": [-2, 2], "nice": false, "zero": false}, "axis": null},
         "color": {"field": "k", "type": "nominal"}
       }},
      {"data": {"name": "src"}, "mark": {"type": "point", "filled": true, "size": 36, "opacity": 1},
       "encoding": {
         "x": {"field": "x", "type": "quantitative", "scale": {"domain": [-2, 2], "nice": false, "zero": false}, "axis": {"orient": "top", "labels": false, "title": null, "values": [-2, -1.5, -1, -0.5, 0, 0.5, 1, 1.5, 2]}},
         "y": {"field": "y", "type": "quantitative", "scale": {"domain": [-2, 2], "nice": false, "zero": false}, "axis": {"orient": "right", "labels": false, "title": null, "values": [-2, -1.5, -1, -0.5, 0, 0.5, 1, 1.5, 2]}},
         "color": {"field": "k", "type": "nominal"}
       }}
    ]
  }
]
}
